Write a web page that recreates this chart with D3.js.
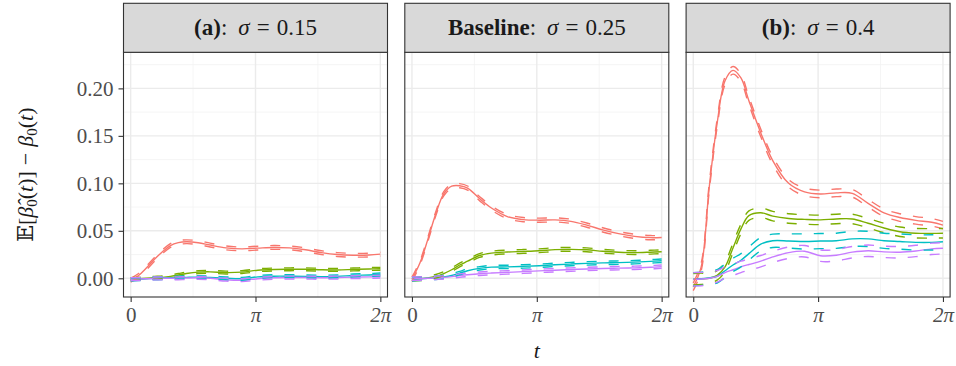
<!DOCTYPE html>
<html>
<head>
<meta charset="utf-8">
<script src="https://cdn.jsdelivr.net/npm/d3@7"></script>
<style>
  html, body { margin: 0; padding: 0; background: #ffffff; }
  svg { display: block; }
  text { font-family: "Liberation Serif", "DejaVu Serif", serif; }
</style>
</head>
<body>
<svg id="chart" width="956" height="366"></svg>
<script>
// Evaluation grid for t (radians)
const tGrid = [0, 0.2, 0.4, 0.6, 0.8, 1.0, 1.2, 1.4, 1.7, 2.0, 2.4, 2.8, 3.2, 3.6, 4.0, 4.4, 4.8, 5.2, 5.6, 6.0, 6.2832];

// Facet labels
const facetBold = ["(a)", "Baseline", "(b)"];
const facetSigma = ["0.15", "0.25", "0.4"];

// Axis ticks
const yTicks = [0, 0.05, 0.10, 0.15, 0.20];
const yTickLabels = ["0.00", "0.05", "0.10", "0.15", "0.20"];
const xTicks = [0, Math.PI, 2 * Math.PI];
const xTickLabels = ["0", "π", "2π"];

// Series colours (red, green, cyan, purple)
const seriesColors = ["#F8766D", "#7CAE00", "#00BFC4", "#C77CFF"];

// (a) sigma = 0.15 : mean bias and half-width of the band
const a_red    = [-0.002, 0.003, 0.011, 0.020, 0.028, 0.0345, 0.0375, 0.0385, 0.0375, 0.035, 0.032, 0.031, 0.0318, 0.0325, 0.032, 0.030, 0.027, 0.025, 0.0243, 0.0245, 0.0255];
const a_green  = [-0.001, -0.0005, 0, 0.0005, 0.001, 0.002, 0.0035, 0.005, 0.0065, 0.0068, 0.006, 0.0065, 0.0085, 0.0093, 0.0095, 0.0095, 0.009, 0.0088, 0.0093, 0.0098, 0.010];
const a_cyan   = [-0.0015, -0.001, -0.0005, 0, 0.0003, 0.0005, 0.0008, 0.001, 0.0012, 0.0008, 0, -0.0005, 0.0015, 0.0022, 0.0022, 0.002, 0.0018, 0.002, 0.003, 0.0035, 0.004];
const a_purple = [-0.001, -0.0008, -0.0005, -0.0002, 0, 0, 0, 0.0003, 0.0005, 0, -0.0015, -0.002, -0.0005, 0.0005, 0.0008, 0.0008, 0.0005, 0.0008, 0.0012, 0.0015, 0.0018];
const a_redBand    = [0.002, 0.002, 0.002, 0.002, 0.002, 0.002, 0.002, 0.002, 0.002, 0.002, 0.002, 0.002, 0.002, 0.002, 0.002, 0.002, 0.002, 0.002, 0.002, 0.002, 0.002];
const a_greenBand  = [0.0015, 0.0015, 0.0015, 0.0015, 0.0015, 0.0015, 0.0015, 0.0015, 0.0015, 0.0015, 0.0015, 0.0015, 0.0015, 0.0015, 0.0015, 0.0015, 0.0015, 0.0015, 0.0015, 0.0015, 0.0015];
const a_cyanBand   = [0.0015, 0.0015, 0.0015, 0.0015, 0.0015, 0.0015, 0.0015, 0.0015, 0.0015, 0.0015, 0.0015, 0.0015, 0.0015, 0.0015, 0.0015, 0.0015, 0.0015, 0.0015, 0.0015, 0.0015, 0.0015];
const a_purpleBand = [0.0015, 0.0015, 0.0015, 0.0015, 0.0015, 0.0015, 0.0015, 0.0015, 0.0015, 0.0015, 0.0015, 0.0015, 0.0015, 0.0015, 0.0015, 0.0015, 0.0015, 0.0015, 0.0015, 0.0015, 0.0015];

// Baseline sigma = 0.25
const b_red    = [-0.001, 0.016, 0.041, 0.068, 0.089, 0.097, 0.0975, 0.095, 0.084, 0.074, 0.065, 0.0618, 0.0612, 0.0615, 0.060, 0.056, 0.051, 0.047, 0.0442, 0.0428, 0.043];
const b_green  = [-0.001, -0.0005, 0.0005, 0.002, 0.005, 0.009, 0.014, 0.018, 0.024, 0.0265, 0.0277, 0.0283, 0.029, 0.0302, 0.0305, 0.030, 0.0285, 0.0275, 0.027, 0.0275, 0.028];
const b_cyan   = [-0.001, -0.0005, 0, 0.0005, 0.0015, 0.003, 0.0055, 0.008, 0.0105, 0.0118, 0.012, 0.0125, 0.0132, 0.0142, 0.015, 0.0157, 0.0162, 0.0165, 0.017, 0.0178, 0.0185];
const b_purple = [-0.0005, -0.0003, 0, 0.0005, 0.001, 0.0018, 0.0028, 0.0037, 0.0048, 0.0055, 0.0062, 0.007, 0.0078, 0.0085, 0.0092, 0.0098, 0.0103, 0.0107, 0.011, 0.0116, 0.0122];
const b_redBand    = [0.0022, 0.0022, 0.0022, 0.0022, 0.0022, 0.0022, 0.0022, 0.0022, 0.0022, 0.0022, 0.0022, 0.0022, 0.0022, 0.0022, 0.0022, 0.0022, 0.0022, 0.0022, 0.0022, 0.0022, 0.0022];
const b_greenBand  = [0.002, 0.002, 0.002, 0.002, 0.002, 0.002, 0.002, 0.002, 0.002, 0.002, 0.002, 0.002, 0.002, 0.002, 0.002, 0.002, 0.002, 0.002, 0.002, 0.002, 0.002];
const b_cyanBand   = [0.0018, 0.0018, 0.0018, 0.0018, 0.0018, 0.0018, 0.0018, 0.0018, 0.0018, 0.0018, 0.0018, 0.0018, 0.0018, 0.0018, 0.0018, 0.0018, 0.0018, 0.0018, 0.0018, 0.0018, 0.0018];
const b_purpleBand = [0.0018, 0.0018, 0.0018, 0.0018, 0.0018, 0.0018, 0.0018, 0.0018, 0.0018, 0.0018, 0.0018, 0.0018, 0.0018, 0.0018, 0.0018, 0.0018, 0.0018, 0.0018, 0.0018, 0.0018, 0.0018];

// (b) sigma = 0.4
const c_red    = [-0.009, 0.012, 0.095, 0.163, 0.208, 0.219, 0.211, 0.187, 0.153, 0.124, 0.100, 0.091, 0.0888, 0.090, 0.0895, 0.079, 0.069, 0.064, 0.061, 0.059, 0.056];
const c_green  = [-0.001, -0.0005, 0, 0.003, 0.012, 0.032, 0.052, 0.066, 0.069, 0.0655, 0.063, 0.062, 0.0615, 0.0625, 0.0625, 0.058, 0.053, 0.049, 0.0475, 0.0473, 0.0475];
const c_cyan   = [-0.001, -0.0005, 0.0005, 0.002, 0.008, 0.014, 0.019, 0.026, 0.036, 0.0395, 0.0393, 0.0388, 0.0392, 0.0395, 0.0415, 0.0415, 0.0395, 0.0387, 0.0378, 0.0378, 0.0385];
const c_purple = [-0.001, -0.0008, 0, 0.002, 0.006, 0.009, 0.012, 0.0145, 0.018, 0.0225, 0.027, 0.0285, 0.0238, 0.0243, 0.0275, 0.029, 0.0278, 0.0275, 0.0288, 0.031, 0.0316];
const c_redBand    = [0.004, 0.004, 0.004, 0.004, 0.004, 0.004, 0.004, 0.004, 0.004, 0.004, 0.004, 0.004, 0.004, 0.004, 0.004, 0.004, 0.004, 0.004, 0.004, 0.004, 0.004];
const c_greenBand  = [0.006, 0.006, 0.005, 0.005, 0.005, 0.005, 0.005, 0.005, 0.005, 0.005, 0.005, 0.005, 0.005, 0.005, 0.005, 0.005, 0.005, 0.005, 0.005, 0.005, 0.005];
const c_cyanBand   = [0.007, 0.007, 0.007, 0.007, 0.007, 0.007, 0.007, 0.007, 0.007, 0.007, 0.0075, 0.008, 0.008, 0.008, 0.008, 0.008, 0.008, 0.008, 0.008, 0.008, 0.008];
const c_purpleBand = [0.007, 0.007, 0.0065, 0.006, 0.006, 0.006, 0.006, 0.006, 0.006, 0.006, 0.006, 0.006, 0.006, 0.006, 0.006, 0.006, 0.006, 0.006, 0.006, 0.006, 0.006];

const facetMeans = [
  [a_red, a_green, a_cyan, a_purple],
  [b_red, b_green, b_cyan, b_purple],
  [c_red, c_green, c_cyan, c_purple]
];
const facetBands = [
  [a_redBand, a_greenBand, a_cyanBand, a_purpleBand],
  [b_redBand, b_greenBand, b_cyanBand, b_purpleBand],
  [c_redBand, c_greenBand, c_cyanBand, c_purpleBand]
];

// Layout
const svg = d3.select("#chart");
const panelLeft0 = 123.5, panelW = 264, panelStep = 281.3;
const stripTop = 3.3, stripH = 49, panelTop = 52.3, panelBottom = 297;

const y = d3.scaleLinear().domain([-0.0197, 0.238]).range([panelBottom, panelTop]);
const yMinor = d3.range(-0.025, 0.24, 0.05);
const xMinor = [Math.PI / 2, 3 * Math.PI / 2];

const gridMajor = "#EBEBEB", gridMinor = "#F3F3F3", frame = "#333333";

facetMeans.forEach((means, f) => {
  const left = panelLeft0 + f * panelStep;
  const x = d3.scaleLinear().domain([-0.18, 2 * Math.PI + 0.18]).range([left, left + panelW]);
  const g = svg.append("g");

  const clipId = "clip" + f;
  g.append("clipPath").attr("id", clipId)
    .append("rect").attr("x", left).attr("y", panelTop).attr("width", panelW).attr("height", panelBottom - panelTop);

  // grid
  const grid = g.append("g");
  grid.selectAll("line.ymin").data(yMinor.filter(v => y(v) > panelTop && y(v) < panelBottom)).join("line")
    .attr("x1", left).attr("x2", left + panelW).attr("y1", d => y(d)).attr("y2", d => y(d))
    .attr("stroke", gridMinor).attr("stroke-width", 0.8);
  grid.selectAll("line.xmin").data(xMinor).join("line")
    .attr("y1", panelTop).attr("y2", panelBottom).attr("x1", d => x(d)).attr("x2", d => x(d))
    .attr("stroke", gridMinor).attr("stroke-width", 0.8);
  grid.selectAll("line.ymaj").data(yTicks).join("line")
    .attr("x1", left).attr("x2", left + panelW).attr("y1", d => y(d)).attr("y2", d => y(d))
    .attr("stroke", gridMajor).attr("stroke-width", 1.4);
  grid.selectAll("line.xmaj").data(xTicks).join("line")
    .attr("y1", panelTop).attr("y2", panelBottom).attr("x1", d => x(d)).attr("x2", d => x(d))
    .attr("stroke", gridMajor).attr("stroke-width", 1.4);

  const line = d3.line().x(d => x(d[0])).y(d => y(d[1])).curve(d3.curveCatmullRom.alpha(0.5));
  const plot = g.append("g").attr("clip-path", `url(#${clipId})`);

  // solid mean curves
  means.forEach((vals, s) => {
    plot.append("path")
      .datum(tGrid.map((t, i) => [t, vals[i]]))
      .attr("d", line).attr("fill", "none")
      .attr("stroke", seriesColors[s]).attr("stroke-width", 1.4);
  });
  // dashed band curves
  means.forEach((vals, s) => {
    const band = facetBands[f][s];
    [-1, 1].forEach(sign => {
      plot.append("path")
        .datum(tGrid.map((t, i) => [t, vals[i] + sign * band[i]]))
        .attr("d", line).attr("fill", "none")
        .attr("stroke", seriesColors[s]).attr("stroke-width", 1.4)
        .attr("stroke-dasharray", "10,12");
    });
  });

  // panel border
  g.append("rect").attr("x", left).attr("y", panelTop).attr("width", panelW).attr("height", panelBottom - panelTop)
    .attr("fill", "none").attr("stroke", frame).attr("stroke-width", 1.1);

  // strip
  g.append("rect").attr("x", left).attr("y", stripTop).attr("width", panelW).attr("height", stripH)
    .attr("fill", "#D9D9D9").attr("stroke", frame).attr("stroke-width", 1.1);
  const st = g.append("text").attr("x", left + panelW / 2).attr("y", stripTop + stripH / 2 + 7.5)
    .attr("text-anchor", "middle").attr("font-size", 23).attr("fill", "#1A1A1A");
  st.append("tspan").attr("font-weight", "bold").text(facetBold[f]);
  st.append("tspan").text(":");
  st.append("tspan").attr("dx", 11).attr("font-style", "italic").text("σ");
  st.append("tspan").attr("dx", 7).text("=");
  st.append("tspan").attr("dx", 7).text(facetSigma[f]);

  // x axis
  const xa = g.append("g").attr("transform", `translate(0,${panelBottom})`)
    .call(d3.axisBottom(x).tickValues(xTicks).tickFormat((d, i) => xTickLabels[i]).tickSize(5).tickPadding(5));
  xa.select(".domain").remove();
  xa.selectAll(".tick line").attr("stroke", frame).attr("stroke-width", 1.1);
  xa.selectAll(".tick text").attr("font-family", "Liberation Serif").attr("font-size", 21).attr("fill", "#4D4D4D")
    .attr("font-style", (d, i) => i === 0 ? "normal" : "italic");

  if (f === 0) {
    const ya = g.append("g").attr("transform", `translate(${left},0)`)
      .call(d3.axisLeft(y).tickValues(yTicks).tickFormat((d, i) => yTickLabels[i]).tickSize(5).tickPadding(5));
    ya.select(".domain").remove();
    ya.selectAll(".tick line").attr("stroke", frame).attr("stroke-width", 1.1);
    ya.selectAll(".tick text").attr("font-family", "Liberation Serif").attr("font-size", 21).attr("fill", "#4D4D4D");
  }
});

// axis titles
svg.append("text").attr("x", panelLeft0 + panelStep + panelW / 2).attr("y", 358)
  .attr("text-anchor", "middle").attr("font-size", 22).attr("font-style", "italic").attr("fill", "#1A1A1A").text("t");

const yt = svg.append("text")
  .attr("transform", `translate(33,${(panelTop + panelBottom) / 2}) rotate(-90)`)
  .attr("text-anchor", "middle").attr("font-size", 22).attr("fill", "#1A1A1A");
yt.append("tspan").attr("font-family", "DejaVu Serif, DejaVu Sans").text("𝔼");
yt.append("tspan").text("[");
yt.append("tspan").attr("font-style", "italic").text("β̂");
yt.append("tspan").attr("font-size", 15).attr("dy", 4).text("0");
yt.append("tspan").attr("dy", -4).text("(");
yt.append("tspan").attr("font-style", "italic").text("t");
yt.append("tspan").text(")]");
yt.append("tspan").attr("dx", 6).text("−");
yt.append("tspan").attr("dx", 6).attr("font-style", "italic").text("β");
yt.append("tspan").attr("font-size", 15).attr("dy", 4).text("0");
yt.append("tspan").attr("dy", -4).text("(");
yt.append("tspan").attr("font-style", "italic").text("t");
yt.append("tspan").text(")");
</script>
</body>
</html>
